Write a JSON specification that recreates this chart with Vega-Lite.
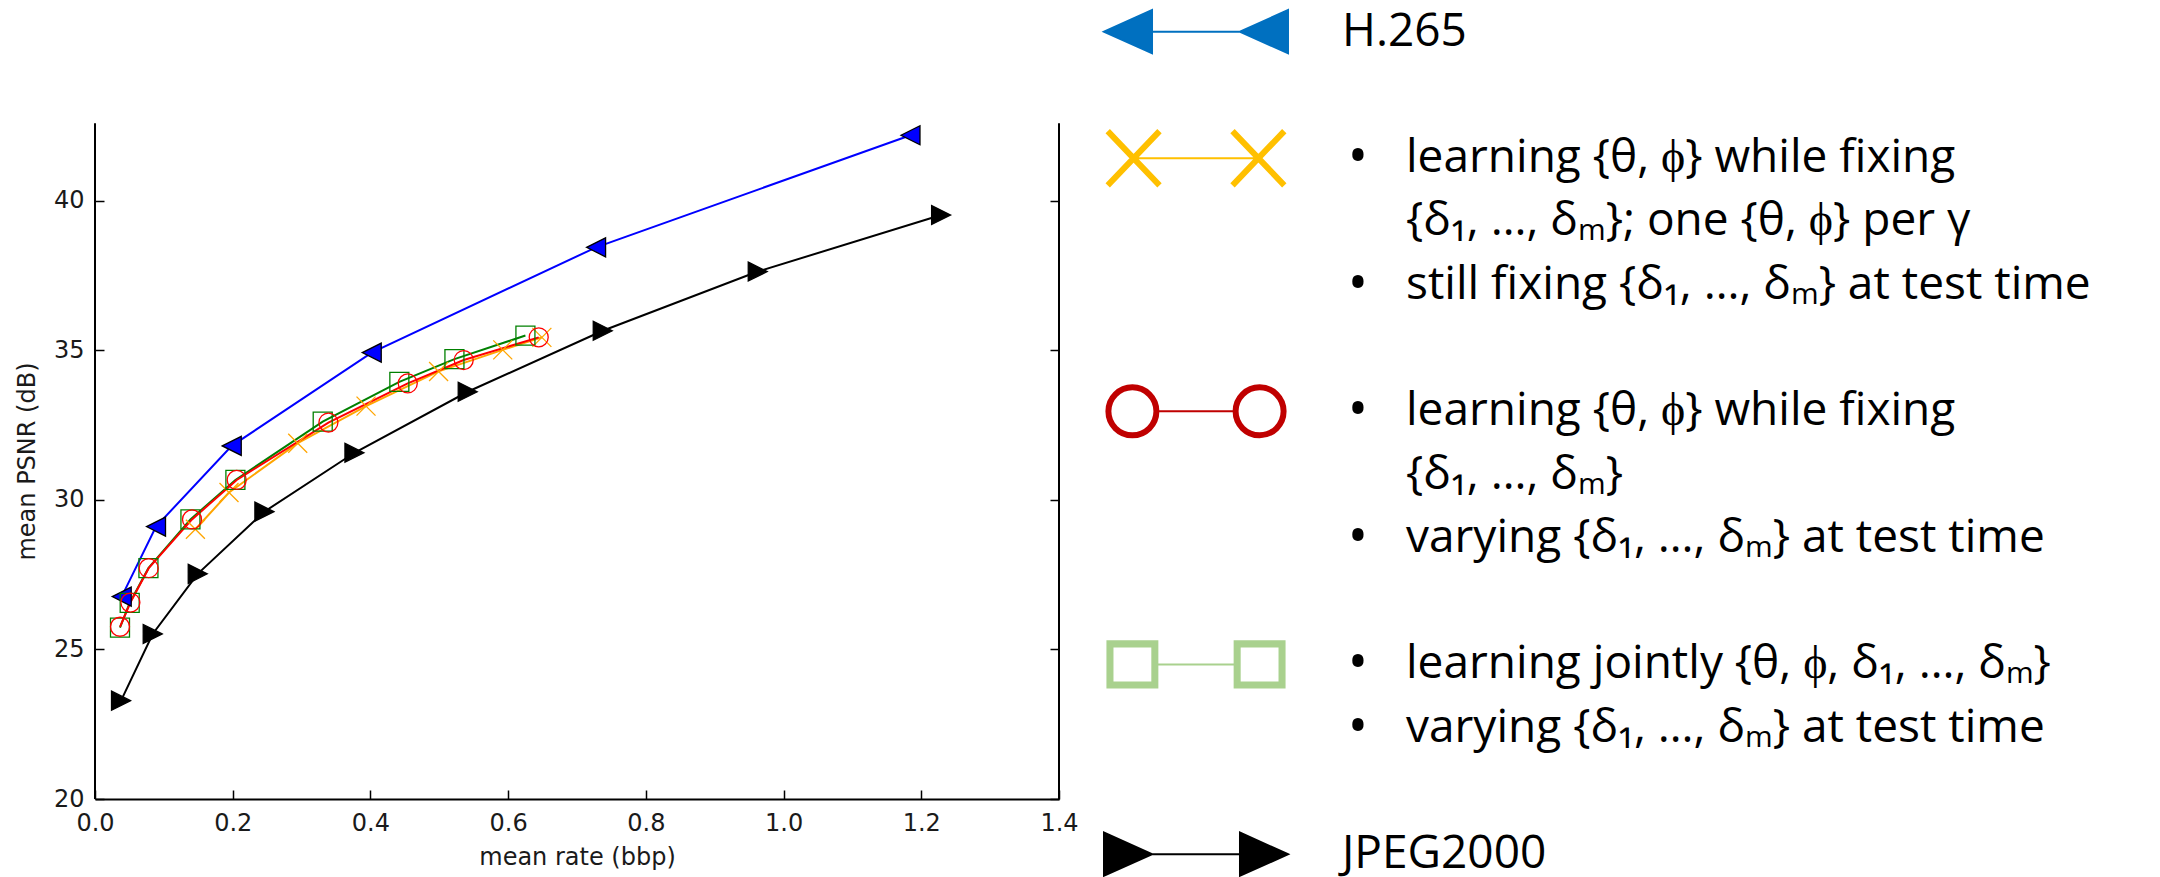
{
  "$schema": "https://vega.github.io/schema/vega-lite/v6.json",
  "background": "white",
  "padding": {"left": 15, "top": 0, "right": 0, "bottom": 0},
  "spacing": 37,
  "bounds": "flush",
  "resolve": {"scale": {"shape": "independent", "fill": "independent", "stroke": "independent", "color": "independent", "size": "independent"}},
  "config": {"view": {"stroke": null}, "axis": {"grid": false}},
  "datasets": {
    "rd": [
      {"codec": "JPEG2000", "rate": 0.0378, "psnr": 23.29},
      {"codec": "JPEG2000", "rate": 0.0838, "psnr": 25.52},
      {"codec": "JPEG2000", "rate": 0.1492, "psnr": 27.53},
      {"codec": "JPEG2000", "rate": 0.246, "psnr": 29.61},
      {"codec": "JPEG2000", "rate": 0.3768, "psnr": 31.58},
      {"codec": "JPEG2000", "rate": 0.5413, "psnr": 33.62},
      {"codec": "JPEG2000", "rate": 0.7374, "psnr": 35.66},
      {"codec": "JPEG2000", "rate": 0.9625, "psnr": 37.64},
      {"codec": "JPEG2000", "rate": 1.2288, "psnr": 39.53},
      {"codec": "H.265", "rate": 0.0388, "psnr": 26.77},
      {"codec": "H.265", "rate": 0.0886, "psnr": 29.11},
      {"codec": "H.265", "rate": 0.1986, "psnr": 31.81},
      {"codec": "H.265", "rate": 0.4019, "psnr": 34.93},
      {"codec": "H.265", "rate": 0.7277, "psnr": 38.45},
      {"codec": "H.265", "rate": 1.1843, "psnr": 42.2},
      {"codec": "fixed", "rate": 0.1458, "psnr": 29.02},
      {"codec": "fixed", "rate": 0.1946, "psnr": 30.25},
      {"codec": "fixed", "rate": 0.2944, "psnr": 31.9},
      {"codec": "fixed", "rate": 0.3936, "psnr": 33.14},
      {"codec": "fixed", "rate": 0.499, "psnr": 34.3},
      {"codec": "fixed", "rate": 0.5922, "psnr": 35.02},
      {"codec": "fixed", "rate": 0.649, "psnr": 35.44},
      {"codec": "joint", "rate": 0.0363, "psnr": 25.73},
      {"codec": "joint", "rate": 0.0504, "psnr": 26.56},
      {"codec": "joint", "rate": 0.0776, "psnr": 27.72},
      {"codec": "joint", "rate": 0.1386, "psnr": 29.35},
      {"codec": "joint", "rate": 0.2039, "psnr": 30.67},
      {"codec": "joint", "rate": 0.3307, "psnr": 32.62},
      {"codec": "joint", "rate": 0.442, "psnr": 33.95},
      {"codec": "joint", "rate": 0.522, "psnr": 34.71},
      {"codec": "joint", "rate": 0.6251, "psnr": 35.5},
      {"codec": "fixed-vary", "rate": 0.0363, "psnr": 25.76},
      {"codec": "fixed-vary", "rate": 0.0514, "psnr": 26.57},
      {"codec": "fixed-vary", "rate": 0.078, "psnr": 27.72},
      {"codec": "fixed-vary", "rate": 0.1409, "psnr": 29.35},
      {"codec": "fixed-vary", "rate": 0.2058, "psnr": 30.67},
      {"codec": "fixed-vary", "rate": 0.339, "psnr": 32.59},
      {"codec": "fixed-vary", "rate": 0.4542, "psnr": 33.9},
      {"codec": "fixed-vary", "rate": 0.5355, "psnr": 34.68},
      {"codec": "fixed-vary", "rate": 0.6444, "psnr": 35.44}
    ],
    "legend": [
      {"item": "H.265", "kind": "key", "line": 0},
      {"item": "H.265", "kind": "label", "line": 0, "text": "H.265"},
      {"item": "fixed", "kind": "key", "line": 2},
      {"item": "fixed", "kind": "bullet", "line": 2, "text": "learning {θ, ϕ} while fixing"},
      {"item": "fixed", "kind": "cont", "line": 3, "text": "{δ₁, …, δₘ}; one {θ, ϕ} per γ"},
      {"item": "fixed", "kind": "bullet", "line": 4, "text": "still fixing {δ₁, …, δₘ} at test time"},
      {"item": "fixed-vary", "kind": "key", "line": 6},
      {"item": "fixed-vary", "kind": "bullet", "line": 6, "text": "learning {θ, ϕ} while fixing"},
      {"item": "fixed-vary", "kind": "cont", "line": 7, "text": "{δ₁, …, δₘ}"},
      {"item": "fixed-vary", "kind": "bullet", "line": 8, "text": "varying {δ₁, …, δₘ} at test time"},
      {"item": "joint", "kind": "key", "line": 10},
      {"item": "joint", "kind": "bullet", "line": 10, "text": "learning jointly {θ, ϕ, δ₁, …, δₘ}"},
      {"item": "joint", "kind": "bullet", "line": 11, "text": "varying {δ₁, …, δₘ} at test time"},
      {"item": "JPEG2000", "kind": "key", "line": 13},
      {"item": "JPEG2000", "kind": "label", "line": 13, "text": "JPEG2000"}
    ]
  },
  "hconcat": [
    {
      "width": 964,
      "height": 799,
      "data": {"name": "rd"},
      "resolve": {"axis": {"y": "independent"}},
      "layer": [
        {
          "mark": {"type": "line", "strokeWidth": 2},
          "encoding": {
            "x": {
              "field": "rate", "type": "quantitative",
              "scale": {"domain": [0, 1.4], "nice": false, "zero": false},
              "axis": {
                "title": "mean rate (bbp)", "values": [0, 0.2, 0.4, 0.6, 0.8, 1.0, 1.2, 1.4], "format": ".1f",
                "labelFont": "DejaVu Sans", "labelFontSize": 24, "labelColor": "#1a1a1a", "labelFlush": false, "labelOverlap": false,
                "titleFont": "DejaVu Sans", "titleFontSize": 24, "titleFontWeight": "normal", "titleColor": "#1a1a1a",
                "domain": true, "domainColor": "#000000", "domainWidth": 2,
                "ticks": true, "tickColor": "#000000", "tickWidth": 1.5, "tickSize": -9,
                "labelPadding": 21, "titlePadding": 10
              }
            },
            "y": {
              "field": "psnr", "type": "quantitative",
              "scale": {"domain": [20, 46.722], "nice": false, "zero": false},
              "axis": {
                "orient": "left", "title": "mean PSNR (dB)", "values": [20, 25, 30, 35, 40],
                "labelFont": "DejaVu Sans", "labelFontSize": 24, "labelColor": "#1a1a1a",
                "titleFont": "DejaVu Sans", "titleFontSize": 24, "titleFontWeight": "normal", "titleColor": "#1a1a1a",
                "domain": false, "ticks": true, "tickColor": "#000000", "tickWidth": 1.5, "tickSize": -9,
                "labelPadding": 20, "titlePadding": 14, "titleY": 461
              }
            },
            "color": {
              "field": "codec", "type": "nominal", "legend": null,
              "scale": {"domain": ["JPEG2000", "H.265", "fixed", "fixed-vary", "joint"], "range": ["#000000", "#0000ff", "#ffa500", "#ff0000", "#008000"]}
            }
          }
        },
        {
          "mark": {"type": "point", "filled": true, "opacity": 1, "strokeWidth": 1.3},
          "encoding": {
            "x": {"field": "rate", "type": "quantitative"},
            "y": {"field": "psnr", "type": "quantitative", "axis": null},
            "shape": {
              "field": "codec", "type": "nominal", "legend": null,
              "scale": {"domain": ["JPEG2000", "H.265", "fixed", "fixed-vary", "joint"], "range": ["M1,0L-1,-1L-1,1Z", "M-1,0L1,-1L1,1Z", "M-1,-1L1,1M-1,1L1,-1", "circle", "square"]}
            },
            "fill": {
              "field": "codec", "type": "nominal", "legend": null,
              "scale": {"domain": ["JPEG2000", "H.265", "fixed", "fixed-vary", "joint"], "range": ["#000000", "#0000ff", "transparent", "transparent", "transparent"]}
            },
            "stroke": {
              "field": "codec", "type": "nominal", "legend": null,
              "scale": {"domain": ["JPEG2000", "H.265", "fixed", "fixed-vary", "joint"], "range": ["#000000", "#000000", "#ffa500", "#ff0000", "#008000"]}
            },
            "size": {
              "field": "codec", "type": "nominal", "legend": null,
              "scale": {"domain": ["JPEG2000", "H.265", "fixed", "fixed-vary", "joint"], "range": [361, 361, 400, 333, 372]}
            }
          }
        },
        {
          "data": {"values": [{}]},
          "mark": {"type": "rule", "stroke": "#000000", "strokeWidth": 2},
          "encoding": {
            "x": {"datum": 0, "type": "quantitative"},
            "y": {"datum": 20, "type": "quantitative", "axis": null},
            "y2": {"datum": 42.6}
          }
        },
        {
          "data": {"values": [{}]},
          "mark": {"type": "rule", "stroke": "#000000", "strokeWidth": 2},
          "encoding": {
            "x": {"datum": 1.4, "type": "quantitative"},
            "y": {
              "datum": 20, "type": "quantitative",
              "axis": {"orient": "right", "values": [20, 25, 30, 35, 40], "labels": false, "domain": false, "ticks": true, "tickColor": "#000000", "tickWidth": 1.5, "tickSize": -9, "title": null}
            },
            "y2": {"datum": 42.6}
          }
        }
      ]
    },
    {
      "width": 200,
      "height": 877,
      "data": {"name": "legend"},
      "encoding": {
        "y": {"field": "line", "type": "quantitative", "axis": null, "scale": {"domain": [-0.5, 13.36], "reverse": true, "nice": false, "zero": false}}
      },
      "layer": [
        {
          "transform": [{"filter": "datum.kind == 'key'"}],
          "mark": {"type": "point", "filled": true, "opacity": 1, "strokeWidth": 2, "size": 2304},
          "encoding": {
            "shape": {
              "field": "item", "type": "nominal", "legend": null,
              "scale": {
                "domain": ["H.265", "fixed", "fixed-vary", "joint", "JPEG2000"],
                "range": [
                  "M-3.833,0L-1.833,-0.9L-1.833,0.9Z M-1.833,0L1.833,0 M1.833,0L3.833,-0.9L3.833,0.9Z",
                  "M-3.589,-1.159L-1.489,1.041L-1.611,1.159L-3.711,-1.041Z M-1.489,-1.041L-3.589,1.159L-3.711,1.041L-1.611,-1.159Z M1.611,-1.159L3.711,1.041L3.589,1.159L1.489,-1.041Z M3.711,-1.041L1.611,1.159L1.489,1.041L3.589,-1.159Z M-2.6,0L2.6,0",
                  "M-3.733,0A1.083,1.083,0,1,0,-1.567,0A1.083,1.083,0,1,0,-3.733,0Z M-3.567,0A0.917,0.917,0,1,1,-1.733,0A0.917,0.917,0,1,1,-3.567,0Z M1.567,0A1.083,1.083,0,1,0,3.733,0A1.083,1.083,0,1,0,1.567,0Z M1.733,0A0.917,0.917,0,1,1,3.567,0A0.917,0.917,0,1,1,1.733,0Z M-1.567,0L1.567,0",
                  "M-3.69,-0.96L-1.61,-0.96L-1.61,0.96L-3.69,0.96Z M-3.48,-0.75L-3.48,0.75L-1.82,0.75L-1.82,-0.75Z M1.61,-0.96L3.69,-0.96L3.69,0.96L1.61,0.96Z M1.82,-0.75L1.82,0.75L3.48,0.75L3.48,-0.75Z M-1.61,0L1.61,0",
                  "M-1.833,0L-3.833,-0.9L-3.833,0.9Z M-1.833,0L1.833,0 M3.833,0L1.833,-0.9L1.833,0.9Z"
                ]
              }
            },
            "fill": {
              "field": "item", "type": "nominal", "legend": null,
              "scale": {"domain": ["H.265", "fixed", "fixed-vary", "joint", "JPEG2000"], "range": ["#0070c0", "#ffc000", "#c00000", "#a9d18e", "#000000"]}
            },
            "stroke": {
              "field": "item", "type": "nominal", "legend": null,
              "scale": {"domain": ["H.265", "fixed", "fixed-vary", "joint", "JPEG2000"], "range": ["#0070c0", "#ffc000", "#c00000", "#a9d18e", "#000000"]}
            }
          }
        },
        {
          "transform": [{"filter": "datum.kind == 'label'"}],
          "mark": {"type": "text", "font": "Open Sans", "fontSize": 46, "align": "left", "baseline": "middle", "dx": 146, "color": "#000000"},
          "encoding": {"text": {"field": "text"}}
        },
        {
          "transform": [{"filter": "datum.kind == 'bullet'"}],
          "mark": {"type": "text", "font": "Open Sans", "fontSize": 54, "align": "center", "baseline": "middle", "dx": 162, "dy": 1, "color": "#000000", "text": "•"}
        },
        {
          "transform": [{"filter": "datum.kind == 'bullet' || datum.kind == 'cont'"}],
          "mark": {"type": "text", "font": "Open Sans", "fontSize": 46, "align": "left", "baseline": "middle", "dx": 210, "color": "#000000"},
          "encoding": {"text": {"field": "text"}}
        }
      ]
    }
  ]
}
